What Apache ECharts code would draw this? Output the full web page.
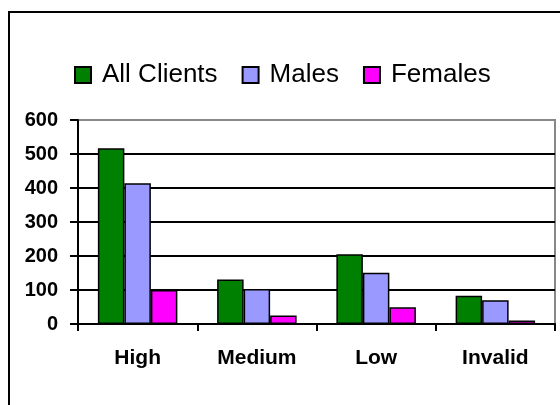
<!DOCTYPE html>
<html>
<head>
<meta charset="utf-8">
<script src="https://cdn.jsdelivr.net/npm/echarts@6/dist/echarts.min.js"></script>
<style>html,body{margin:0;padding:0;background:#fff;}#c{width:560px;height:405px;}</style>
</head>
<body>
<div id="c"></div>
<script>
var categories = ['High', 'Medium', 'Low', 'Invalid'];
var seriesNames = ['All Clients', 'Males', 'Females'];
var allClients = [517, 131, 205, 83];
var males = [414, 103, 151, 70];
var females = [100, 25, 49, 10];
var yTicks = [0, 100, 200, 300, 400, 500, 600];

var colors = ['#008000', '#9999FF', '#FF00FF'];
var chart = echarts.init(document.getElementById('c'), null, {renderer: 'canvas'});
var font = 'Arial, "Liberation Sans", sans-serif';
function mk(name, data, color) {
  return {
    name: name, type: 'bar', data: data, barWidth: 26.5, barGap: '0%', barCategoryGap: '33%',
    itemStyle: {color: color, borderColor: '#000', borderWidth: 1.5},
    emphasis: {disabled: true}, animation: false
  };
}
chart.setOption({
  animation: false,
  graphic: [{type: 'rect', shape: {x: 9, y: 12, width: 700, height: 600}, style: {fill: 'none', stroke: '#000', lineWidth: 2}, silent: true}],
  legend: {
    data: seriesNames, top: 57, left: 69, icon: 'rect', itemWidth: 16, itemHeight: 16, itemGap: 24,
    textStyle: {fontFamily: font, fontSize: 26, color: '#000', padding: [0, 0, 0, 6]}
  },
  grid: {left: 78, top: 120, right: 5, bottom: 81, show: true, borderColor: '#888', borderWidth: 2, backgroundColor: 'transparent'},
  xAxis: {
    type: 'category', data: categories,
    axisLine: {lineStyle: {color: '#000', width: 2}},
    axisTick: {show: true, length: 7, lineStyle: {color: '#000', width: 2}},
    axisLabel: {fontFamily: font, fontSize: 21, fontWeight: 'bold', color: '#000', margin: 24}
  },
  yAxis: {
    type: 'value', min: yTicks[0], max: yTicks[yTicks.length - 1], interval: 100,
    axisLine: {show: true, lineStyle: {color: '#000', width: 2}},
    axisTick: {show: true, length: 8, lineStyle: {color: '#000', width: 2}},
    axisLabel: {fontFamily: font, fontSize: 20, fontWeight: 'bold', color: '#000', margin: 20},
    splitLine: {show: true, lineStyle: {color: ['#000', '#000', '#000', '#000', '#000', '#000', '#888'], width: 2}}
  },
  series: [mk(seriesNames[0], allClients, colors[0]), mk(seriesNames[1], males, colors[1]), mk(seriesNames[2], females, colors[2])]
});
</script>
</body>
</html>
